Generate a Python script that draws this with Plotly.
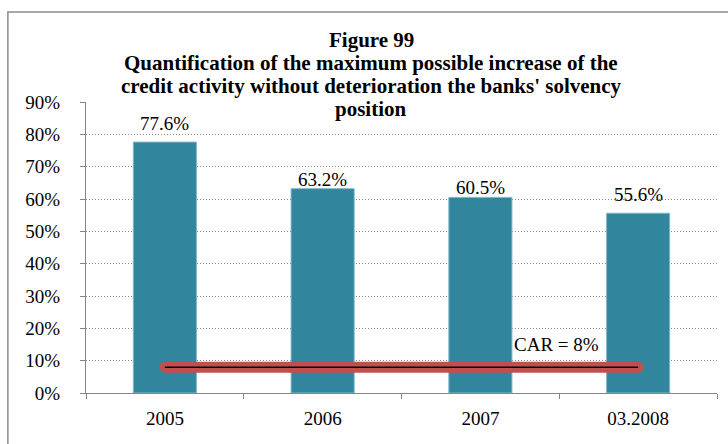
import plotly.graph_objects as go

# data
years = ["2005", "2006", "2007", "03.2008"]
increase = [0.776, 0.632, 0.605, 0.556]
car_level = [0.08, 0.08, 0.08, 0.08]
title_lines = [
    "Figure 99",
    "Quantification of the maximum possible increase of the",
    "credit activity without deterioration the banks' solvency",
    "position",
]

FONT = "Liberation Serif, Times New Roman, serif"
BAR = "#31859C"
RED = "#C0504D"
GRAY = "#868686"
label_shift = [19, 9, 10, 19]  # px above bar top, as placed in the original

fig = go.Figure()

fig.add_trace(go.Bar(
    x=years, y=increase,
    marker=dict(color=BAR, line=dict(color="#7fb8c9", width=1)),
    hoverinfo="x+y",
))

# value labels above the bars (x given as category index)
for i, v in enumerate(increase):
    fig.add_annotation(
        x=i, y=v, text="{:.1f}%".format(v * 100), showarrow=False,
        xanchor="center", yanchor="middle", yshift=label_shift[i],
        font=dict(family=FONT, size=19, color="black"),
    )

# CAR = 8% line: thick red band with thin black line on top
fig.add_trace(go.Scatter(
    x=years, y=car_level, mode="lines+markers",
    line=dict(color=RED, width=11),
    marker=dict(color=RED, size=11),
    hoverinfo="skip",
))
fig.add_trace(go.Scatter(
    x=years, y=car_level, mode="lines",
    line=dict(color="black", width=1.5),
    hoverinfo="skip",
))

fig.add_annotation(
    x=0.746, xref="paper", y=0.1485, yref="y",
    text="CAR = 8%", showarrow=False,
    xanchor="center", yanchor="middle",
    font=dict(family=FONT, size=19, color="black"),
)

# title lines placed one by one to get the tight line spacing
title_y = [40, 63, 86, 109]
for line, ypix in zip(title_lines, title_y):
    fig.add_annotation(
        x=0.452, xref="paper", y=(393 - ypix) / 291, yref="paper",
        text="<b>" + line + "</b>", showarrow=False,
        xanchor="center", yanchor="middle",
        font=dict(family=FONT, size=21, color="black"),
    )

# outer chart border (right and bottom fall outside the picture)
fig.add_shape(
    type="rect", xref="paper", yref="paper",
    x0=(8 - 86) / 630, x1=1.2, y0=-0.4, y1=(393 - 12) / 291,
    line=dict(color="#8c8c8c", width=1.5),
)

fig.update_layout(
    width=728, height=444,
    margin=dict(l=86, r=11, t=102, b=51, autoexpand=False),
    paper_bgcolor="white", plot_bgcolor="white",
    showlegend=False,
    bargap=0.6,
    font=dict(family=FONT, size=19, color="black"),
)
fig.update_xaxes(
    type="category", categoryorder="array", categoryarray=years,
    range=[-0.5, 3.5], automargin=False,
    showline=True, linecolor=GRAY, linewidth=1,
    ticks="outside", tickson="boundaries", ticklen=5, tickcolor=GRAY,
    ticklabelstandoff=8,
    showgrid=False,
    tickfont=dict(family=FONT, size=19, color="black"),
)
fig.update_yaxes(
    range=[0, 0.9], dtick=0.1, tickformat=".0%", automargin=False,
    showline=True, linecolor=GRAY, linewidth=1,
    ticks="outside", ticklen=5, tickcolor=GRAY,
    ticklabelstandoff=16,
    showgrid=True, gridcolor="#8c8c8c", griddash="1px,2px", gridwidth=1,
    zeroline=False,
    tickfont=dict(family=FONT, size=19, color="black"),
)

# drop the default 8px page margin so the figure sits at the window corner
fig.write_html("out.html", config={"displayModeBar": False},
               post_script="document.body.style.margin='0';")
